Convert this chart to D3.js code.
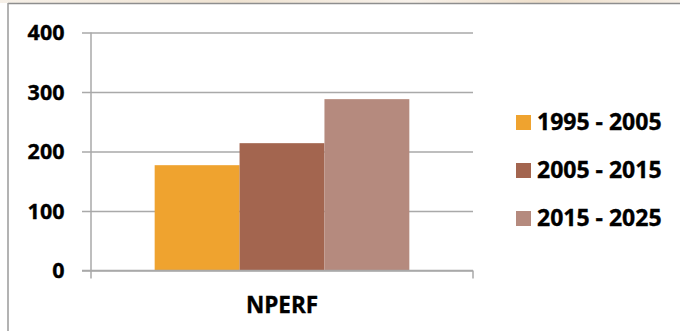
<!DOCTYPE html>
<html>
<head>
<meta charset="utf-8">
<script src="https://cdn.jsdelivr.net/npm/d3@7"></script>
<style>
  html, body { margin: 0; padding: 0; background: #fff; }
  svg { display: block; }
  text { font-family: "Open Sans", "Noto Sans", sans-serif; font-weight: 700; fill: #000;
         stroke: #000; stroke-width: 0.35px; }
</style>
</head>
<body>
<svg id="chart" width="680" height="331"></svg>
<script>
// Chart data
const categories = ["NPERF"];
const seriesNames = ["1995 - 2005", "2005 - 2015", "2015 - 2025"];
const seriesValues = [177, 214, 288];
const seriesColors = ["#EFA32F", "#A3654F", "#B58A7E"];
const yTicks = [0, 100, 200, 300, 400];

const svg = d3.select("#chart");
const W = 680, H = 331;

// Frame: faint strip at the top edge, grey border on top and left
const grad = svg.append("defs").append("linearGradient").attr("id", "topStrip");
grad.append("stop").attr("offset", "0%").attr("stop-color", "#F6F0E8");
grad.append("stop").attr("offset", "35%").attr("stop-color", "#EFE3D2");
grad.append("stop").attr("offset", "60%").attr("stop-color", "#F7F1EA");
grad.append("stop").attr("offset", "80%").attr("stop-color", "#EEDFCB");
grad.append("stop").attr("offset", "100%").attr("stop-color", "#F5EEE5");
svg.append("rect").attr("x", 0).attr("y", 0).attr("width", W).attr("height", 3)
  .attr("fill", "url(#topStrip)");
svg.append("line").attr("x1", 8).attr("x2", W).attr("y1", 3.5).attr("y2", 3.5)
  .attr("stroke", "#8E8E8E").attr("stroke-width", 1.5);
svg.append("line").attr("x1", 8).attr("x2", 8).attr("y1", 3).attr("y2", H)
  .attr("stroke", "#9A9A9A").attr("stroke-width", 1.5);

// Plot area
const plot = { left: 91, right: 473, top: 32.5, bottom: 270.5 };

const y = d3.scaleLinear().domain([0, 400]).range([plot.bottom, plot.top]);
const x0 = d3.scaleBand().domain(categories).range([plot.left, plot.right])
  .paddingInner(0).paddingOuter(0.25);
const x1 = d3.scaleBand().domain(seriesNames).range([0, x0.bandwidth()]).padding(0);

const gridColor = "#A9A9A9";

// Horizontal gridlines with short outside ticks
const yAxis = d3.axisLeft(y).tickValues(yTicks)
  .tickSize(-(plot.right - plot.left)).tickSizeOuter(0).tickPadding(0).tickFormat("");
const gy = svg.append("g").attr("transform", `translate(${plot.left},0)`).call(yAxis);
gy.select(".domain").remove();
gy.selectAll(".tick line").attr("stroke", gridColor).attr("stroke-width", 1.5)
  .attr("x1", -9);

// Y tick labels
svg.append("g").selectAll("text").data(yTicks).join("text")
  .attr("x", 64.5).attr("y", d => y(d))
  .attr("dy", "0.36em").attr("text-anchor", "end")
  .attr("font-size", 21.5).text(d => d);

// Bars
const groups = svg.append("g").selectAll("g").data(categories).join("g")
  .attr("transform", d => `translate(${x0(d)},0)`);
groups.selectAll("rect")
  .data(() => seriesNames.map((s, i) => ({ s, v: seriesValues[i], c: seriesColors[i] })))
  .join("rect")
  .attr("x", d => x1(d.s)).attr("width", x1.bandwidth())
  .attr("y", d => y(d.v)).attr("height", d => y(0) - y(d.v))
  .attr("fill", d => d.c);

// Vertical axis line
svg.append("line").attr("x1", plot.left).attr("x2", plot.left)
  .attr("y1", plot.top).attr("y2", plot.bottom + 8)
  .attr("stroke", gridColor).attr("stroke-width", 1.5);

// Category axis with tick marks at band edges
const xAxis = d3.axisBottom(x0).tickSize(0).tickFormat("");
const gx = svg.append("g").attr("transform", `translate(0,${plot.bottom})`).call(xAxis);
gx.select(".domain").remove();
svg.append("line").attr("x1", plot.left - 9).attr("x2", plot.right)
  .attr("y1", plot.bottom).attr("y2", plot.bottom)
  .attr("stroke", gridColor).attr("stroke-width", 1.5);
svg.append("line").attr("x1", plot.right).attr("x2", plot.right)
  .attr("y1", plot.bottom).attr("y2", plot.bottom + 8)
  .attr("stroke", gridColor).attr("stroke-width", 1.5);

// Category label
svg.append("g").selectAll("text").data(categories).join("text")
  .attr("x", d => x0(d) + x0.bandwidth() / 2).attr("y", 313)
  .attr("text-anchor", "middle").attr("font-size", 22.5).text(d => d);

// Legend
const legend = svg.append("g").selectAll("g").data(seriesNames).join("g")
  .attr("transform", (d, i) => `translate(516,${115 + i * 48})`);
legend.append("rect").attr("width", 15).attr("height", 15)
  .attr("fill", (d, i) => seriesColors[i]);
legend.append("text").attr("x", 21).attr("y", 15)
  .attr("font-size", 23).text(d => d);
</script>
</body>
</html>
